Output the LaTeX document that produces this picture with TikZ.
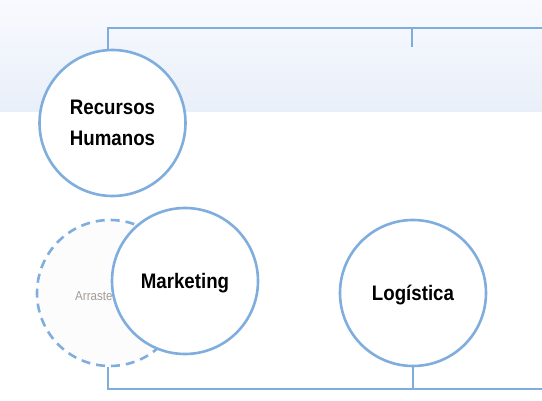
\documentclass[tikz,border=0pt]{standalone}
\usepackage{fontspec}
\setmainfont{Liberation Sans}
\newfontfamily\headfont[FakeStretch=0.89]{Liberation Sans}
\begin{document}
\begin{tikzpicture}[x=1pt,y=-1pt,
  conn/.style={draw=lineblue,line width=2pt},
  bubble/.style={circle,draw=lineblue,line width=2.6pt,fill=white,minimum size=146pt,inner sep=0pt,align=center,text depth=0pt,font=\headfont\bfseries\fontsize{21}{31}\selectfont},
  ghost/.style={circle,draw=lineblue,line width=2.6pt,dashed,dash pattern=on 9pt off 6pt,fill=black!1,minimum size=146pt,inner sep=0pt},
  hint/.style={text=hintgray,font=\headfont\fontsize{13}{15}\selectfont,inner sep=0pt,anchor=west}]
\definecolor{lineblue}{HTML}{7FAEDE}
\definecolor{bandtop}{HTML}{F8FAFE}
\definecolor{bandbot}{HTML}{E9EFF9}
\definecolor{hintgray}{HTML}{A39C95}
\useasboundingbox (0,0) rectangle (542,401);
\fill[white] (0,0) rectangle (542,401);
\shade[top color=bandtop,bottom color=bandbot] (0,0) rectangle (542,112);
% nodes
\node[bubble] (rh) at (112.5,123) {Recursos\\Humanos};
\node[ghost] (gh) at (110,293) {};
\node[hint] (ar) at (75,296) {Arraste};
\node[bubble] (mk) at (185,281) {Marketing};
\node[bubble] (lg) at (413,293) {Logística};
% connectors
\coordinate (tl) at (108,28);
\coordinate (tr) at (542,28);
\coordinate (tm) at (412,28);
\coordinate (tme) at (412,47);
\coordinate (bl) at (108,389);
\coordinate (br) at (542,389);
\coordinate (bm) at (413,389);
\draw[conn] (tr) -- (tl) -- (tl |- rh.north);
\draw[conn] (tm) -- (tme);
\draw[conn] (br) -- (bl) -- (bl |- gh.south);
\draw[conn] (bm) -- (lg.south);
\end{tikzpicture}
\end{document}
